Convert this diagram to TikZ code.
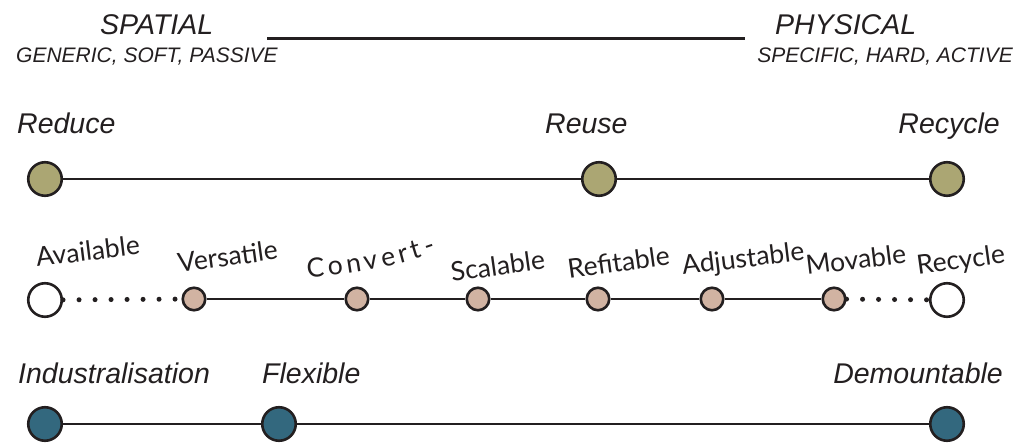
\documentclass[tikz,border=0pt]{standalone}
\usepackage{fontspec}
\setmainfont{Liberation Sans}
\newfontfamily\gill{Lato}
\definecolor{ink}{HTML}{231F20}
\definecolor{olive}{HTML}{ABA673}
\definecolor{rose}{HTML}{D1B3A2}
\definecolor{teal}{HTML}{33687E}
\tikzset{
  big/.style={circle, draw=ink, line width=2.6pt, minimum size=33.5pt, inner sep=0pt},
  small/.style={circle, draw=ink, line width=2.6pt, minimum size=22.5pt, inner sep=0pt},
  lbl/.style={inner sep=0pt, text=ink, font=\itshape\fontsize{28.5}{30}\selectfont},
  sub/.style={inner sep=0pt, text=ink, font=\itshape\fontsize{21}{23}\selectfont},
  mid/.style={inner sep=0pt, text=ink, font=\gill\fontsize{26.5}{28}\selectfont},
  conn/.style={draw=ink, line width=2.6pt},
  dots/.style={draw=ink, line width=5pt, line cap=round, dash pattern=on 0pt off 16pt}
}
\begin{document}
\begin{tikzpicture}[x=1pt,y=-1pt]
\useasboundingbox (0,0) rectangle (1033,443);
\fill[white] (0,0) rectangle (1033,443);
% header
\node[lbl, anchor=base west] (spatial) at (100,35) {SPATIAL};
\node[sub, anchor=base west] (generic) at (16,63) {GENERIC, SOFT, PASSIVE};
\node[lbl, anchor=base west] (physical) at (775,35) {PHYSICAL};
\node[sub, anchor=base east] (specific) at (1013,63) {SPECIFIC, HARD, ACTIVE};
\coordinate (barL) at (267,38.5);
\coordinate (barR) at (745,38.5);
\draw[conn] (barL) -- (barR);
% row 1
\node[lbl, anchor=base west] (treduce) at (17,134) {Reduce};
\node[lbl, anchor=base west] (treuse) at (545,134) {Reuse};
\node[lbl, anchor=base east] (trecycle) at (1000,134) {Recycle};
\node[big, fill=olive] (reduce) at (45,179) {};
\node[big, fill=olive] (reuse) at (599,179) {};
\node[big, fill=olive] (recycle) at (947,179) {};
\draw[conn] (reduce) -- (reuse);
\draw[conn] (reuse) -- (recycle);
% row 2
\node[big, fill=white] (avail) at (45,300) {};
\node[small, fill=rose] (vers) at (194,299) {};
\node[small, fill=rose] (conv) at (357,299) {};
\node[small, fill=rose] (scal) at (478,299) {};
\node[small, fill=rose] (refit) at (598,299) {};
\node[small, fill=rose] (adj) at (712,299) {};
\node[small, fill=rose] (mov) at (834,299) {};
\node[big, fill=white] (recyc2) at (947,300) {};
\draw[dots] (avail) -- (vers);
\draw[conn] (vers) -- (conv);
\draw[conn] (conv) -- (scal);
\draw[conn] (scal) -- (refit);
\draw[conn] (refit) -- (adj);
\draw[conn] (adj) -- (mov);
\draw[dots] (mov) -- (recyc2);
\node[mid, anchor=base west, rotate=7] (tavail) at (37,267) {Available};
\node[mid, anchor=base west, rotate=8] (tvers) at (179,273) {Versatile};
\node[mid, anchor=base, rotate=3] (c1) at (316,277) {C};
\node[mid, anchor=base, rotate=6] (c2) at (336,275) {o};
\node[mid, anchor=base, rotate=9] (c3) at (355,272.5) {n};
\node[mid, anchor=base, rotate=11] (c4) at (372,269.5) {v};
\node[mid, anchor=base, rotate=13] (c5) at (390,266) {e};
\node[mid, anchor=base, rotate=15] (c6) at (405,262) {r};
\node[mid, anchor=base, rotate=17] (c7) at (418,258) {t};
\node[mid, anchor=base, rotate=19] (c8) at (432,254) {-};
\node[mid, anchor=base west, rotate=8] (tscal) at (452,282) {Scalable};
\node[mid, anchor=base west, rotate=8] (trefit) at (569,279) {Refitable};
\node[mid, anchor=base west, rotate=7] (tadj) at (683,275) {Adjustable};
\node[mid, anchor=base west, rotate=7] (tmov) at (807,275) {Movable};
\node[mid, anchor=base west, rotate=8] (trec2) at (918,275) {Recycle};
% row 3
\node[lbl, anchor=base west] (tind) at (18,383) {Industralisation};
\node[lbl, anchor=base west] (tflex) at (262,383) {Flexible};
\node[lbl, anchor=base east] (tdem) at (1003,383) {Demountable};
\node[big, fill=teal] (ind) at (45,424) {};
\node[big, fill=teal] (flex) at (279,424) {};
\node[big, fill=teal] (dem) at (947,424) {};
\draw[conn] (ind) -- (flex);
\draw[conn] (flex) -- (dem);
\end{tikzpicture}
\end{document}
